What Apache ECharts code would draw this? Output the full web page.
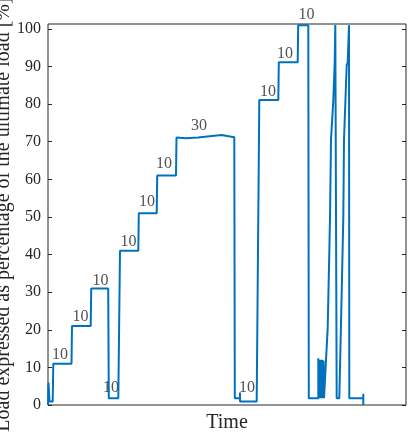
<!DOCTYPE html>
<html>
<head>
<meta charset="utf-8">
<script src="https://cdn.jsdelivr.net/npm/echarts@6/dist/echarts.min.js"></script>
<style>
  html, body { margin: 0; padding: 0; background: #fff; }
  #load-chart { width: 413px; height: 437px; }
</style>
</head>
<body>
<div id="load-chart"></div>
<script>
// load history (time in arbitrary units, load in %)
var time = [
  0, 0.5, 1.5, 4.7, 5.3, 23.5, 24, 42.7, 43.2, 60.2, 60.8, 70.3, 72,
  90.3, 90.8, 108.7, 109.2, 128, 128.5, 138, 150, 173.5, 174.5, 186.3,
  186.8, 192, 192, 192, 208.7, 211.3, 230.3, 230.8, 249.7, 250.2, 260.3,
  260.8, 270.3, 270.3, 270.8, 271.3, 271.8, 272.3, 272.8, 273.3, 273.8,
  274.3, 274.8, 275.5, 276, 278, 279.7, 281.3, 282, 283, 285.3, 286.7,
  287.3, 288.7, 288.7, 291.3, 293.7, 295.3, 296, 298.7, 299.7, 301, 301.3,
  315.3, 315.3, 315.3
]
var load = [
  0, 6, 0.9, 0.9, 11, 11, 21, 21, 31, 31, 1.8, 1.8, 41,
  41, 51, 51, 61, 61, 71.1, 70.9, 71.1, 71.8, 71.3, 71.2,
  1.8, 1.8, 3.3, 0.9, 0.9, 81.1, 81.1, 91.1, 91.1, 101, 101,
  1.8, 1.8, 12.4, 1.8, 12, 1.8, 12, 1.8, 12, 1.8,
  12, 1.8, 11.8, 1.8, 1.8, 20.5, 40.5, 49.7, 70.5, 81, 90.9,
  101, 101, 1.8, 1.8, 30, 49.7, 70.5, 90.4, 91, 101, 1.8,
  1.8, 3, 0
]

// step annotations
var noteTime = [12, 32.5, 52.5, 63, 80.5, 99, 116, 151, 220, 237, 258.5, 199]
var noteLoad = [13.3, 23.4, 33, 4.5, 43.4, 54, 64.1, 74.3, 83.3, 93.4, 103.7, 4.5]
var noteText = ['10', '10', '10', '10', '10', '10', '10', '30', '10', '10', '10', '10']

var yTicks = [0, 10, 20, 30, 40, 50, 60, 70, 80, 90, 100]

var lineData = time.map(function (t, i) {
  return [t, load[i]]
})
var noteData = noteTime.map(function (t, i) {
  return [t, noteLoad[i], noteText[i]]
})

var textColor = '#262626'
var fontFamily = '"Liberation Serif", "DejaVu Serif", serif'

var chart = echarts.init(document.getElementById('load-chart'))
var option = {
  animation: false,
  grid: {
    left: 48,
    right: 7,
    top: 24,
    bottom: 32,
    containLabel: false,
    outerBoundsMode: 'none',
    show: true,
    borderColor: textColor,
    borderWidth: 1
  },
  xAxis: {
    type: 'value',
    min: 0,
    max: 358,
    name: 'Time',
    nameLocation: 'middle',
    nameGap: 8,
    nameMoveOverlap: false,
    nameTextStyle: { color: textColor, fontSize: 20, fontFamily: fontFamily, verticalAlign: 'top' },
    axisLine: { show: false },
    axisTick: { show: false },
    axisLabel: { show: false },
    splitLine: { show: false }
  },
  yAxis: [
    {
      type: 'value',
      min: 0,
      max: 101.3,
      interval: 10,
      name: 'Load expressed as percentage of the ultimate load [%]',
      nameLocation: 'middle',
      nameGap: 34,
      nameMoveOverlap: false,
      nameTextStyle: { color: textColor, fontSize: 20, fontFamily: fontFamily },
      axisLine: { show: false },
      axisTick: {
        show: true,
        inside: true,
        length: 4,
        lineStyle: { color: textColor },
        customValues: yTicks
      },
      axisLabel: {
        color: textColor,
        fontSize: 16,
        fontFamily: fontFamily,
        margin: 7,
        customValues: yTicks
      },
      splitLine: { show: false }
    },
    {
      type: 'value',
      position: 'right',
      min: 0,
      max: 101.3,
      interval: 10,
      axisLine: { show: false },
      axisTick: {
        show: true,
        inside: true,
        length: 4,
        lineStyle: { color: textColor },
        customValues: yTicks
      },
      axisLabel: { show: false },
      splitLine: { show: false }
    }
  ],
  series: [
    {
      name: 'load',
      type: 'line',
      showSymbol: false,
      symbol: 'none',
      clip: true,
      lineStyle: { color: '#0072BD', width: 2 },
      data: lineData
    },
    {
      name: 'notes',
      type: 'scatter',
      symbolSize: 0,
      clip: false,
      silent: true,
      label: {
        show: true,
        position: 'inside',
        color: textColor,
        fontSize: 16,
        fontFamily: fontFamily,
        formatter: function (p) {
          return p.data[2]
        }
      },
      data: noteData
    }
  ]
}
chart.setOption(option)
</script>
</body>
</html>
